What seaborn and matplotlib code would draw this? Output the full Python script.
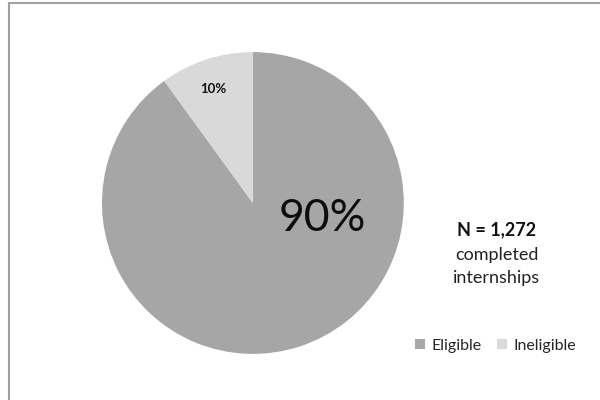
import matplotlib
matplotlib.use("Agg")
import matplotlib.pyplot as plt
import seaborn as sns
from matplotlib.patches import Patch
from matplotlib.lines import Line2D

categories = ["Eligible", "Ineligible"]
shares = [90, 10]
colors = ["#A6A6A6", "#D9D9D9"]
total_label = "N = 1,272"
subtitle_lines = ["completed", "internships"]

sns.set_theme(style="white")
plt.rcParams["font.family"] = ["Lato", "DejaVu Sans"]

fig = plt.figure(figsize=(6, 4), dpi=100)
fig.patch.set_facecolor("white")

# frame lines along the top and left edges
fig.add_artist(Line2D([0.015, 0.015], [0.0, 0.993], transform=fig.transFigure,
                      color="#A0A0A0", lw=1.5))
fig.add_artist(Line2D([0.015, 1.0], [0.993, 0.993], transform=fig.transFigure,
                      color="#A0A0A0", lw=1.5))

ax = fig.add_axes([0.17, 0.115, 0.503, 0.755])
wedges, _ = ax.pie(shares, colors=colors, startangle=90, counterclock=False,
                   wedgeprops=dict(linewidth=0))
ax.set_xlim(-1, 1)
ax.set_ylim(-1, 1)
ax.set_aspect("equal")
ax.axis("off")

# percentage labels
ax.text(0.46, -0.10, f"{shares[0]}%", ha="center", va="center",
        fontsize=32, color="#0d0d0d")
ax.text(-0.265, 0.755, f"{shares[1]}%", ha="center", va="center",
        fontsize=9.5, fontweight="bold", color="#111111")

fig.text(0.828, 0.425, total_label, ha="center", va="center",
         fontsize=13, fontweight="bold", color="#111111")
fig.text(0.828, 0.363, subtitle_lines[0], ha="center", va="center",
         fontsize=13, color="#222222")
fig.text(0.828, 0.305, subtitle_lines[1], ha="center", va="center",
         fontsize=13, color="#222222")

handles = [Patch(facecolor=c, edgecolor="none", label=l) for c, l in zip(colors, categories)]
fig.legend(handles=handles, loc="center", bbox_to_anchor=(0.826, 0.135), ncol=2,
           frameon=False, fontsize=11.5, handlelength=0.6, handleheight=0.6,
           handletextpad=0.4, columnspacing=1.0)

fig.savefig("out.png", dpi=100, facecolor="white")
